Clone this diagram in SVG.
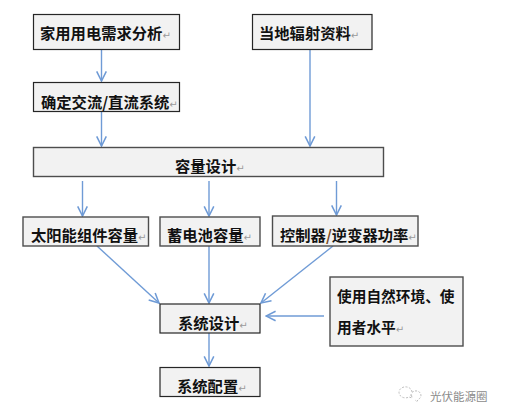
<svg xmlns="http://www.w3.org/2000/svg" width="505" height="418" viewBox="0 0 505 418">
<style>
.b{fill:#f2f2f2;stroke:#262626;stroke-width:1.2}
.g{fill:#f2f2f2;stroke:#4d4d4d;stroke-width:1.4}
text{font-family:"Noto Sans CJK SC","Noto Sans",sans-serif;font-weight:700;font-size:15.300px;fill:#111}
.r{font-family:"DejaVu Sans",sans-serif;font-weight:400;font-size:10px;fill:#9a9a9a}
.e{font-size:14.700px}
.w{font-weight:400;font-size:11.500px;fill:#8c8c8c}
#connectors line{stroke:#6f9bd6;stroke-width:1.4;fill:none;marker-end:url(#a)}
</style>
<defs><marker id="a" markerUnits="userSpaceOnUse" markerWidth="12" markerHeight="12" refX="9" refY="5" orient="auto" viewBox="0 0 10 10"><path d="M1 1L9 5L1 9" fill="none" stroke="#6f9bd6" stroke-width="1.3"/></marker></defs>
<rect width="505" height="418" fill="#fff"/>
<g id="connectors">
<line x1="101.500" y1="49" x2="101.500" y2="81"/>
<line x1="101.500" y1="111" x2="101.500" y2="146"/>
<line x1="310" y1="49" x2="310" y2="146"/>
<line x1="82.500" y1="181" x2="82.500" y2="216"/>
<line x1="209" y1="181" x2="209" y2="216"/>
<line x1="336.500" y1="181" x2="336.500" y2="215"/>
<line x1="97" y1="246" x2="159" y2="303"/>
<line x1="209" y1="246" x2="209" y2="303"/>
<line x1="333" y1="246" x2="261" y2="303"/>
<line x1="209" y1="333" x2="209" y2="366"/>
<line x1="324" y1="316" x2="266" y2="316"/>
</g>
<g id="n1"><rect class="b" x="33.500" y="14.500" width="146" height="35"/><text x="40" y="39">家用用电需求分析<tspan class="r">↵</tspan></text></g>
<g id="n2"><rect class="b" x="33.500" y="82.500" width="146" height="29"/><text x="41" y="108">确定交流/直流系统<tspan class="r">↵</tspan></text></g>
<g id="n3"><rect class="b" x="252.500" y="14.500" width="119.500" height="35"/><text x="259" y="39">当地辐射资料<tspan class="r">↵</tspan></text></g>
<g id="n4"><rect class="g" x="33.500" y="147.500" width="350" height="29"/><text x="175" y="172">容量设计<tspan class="r">↵</tspan></text></g>
<g id="n5"><rect class="g" x="23" y="217" width="125.500" height="29"/><text x="31" y="241">太阳能组件容量<tspan class="r">↵</tspan></text></g>
<g id="n6"><rect class="g" x="160" y="217" width="100" height="29"/><text x="167" y="241">蓄电池容量<tspan class="r">↵</tspan></text></g>
<g id="n7"><rect class="g" x="272.500" y="216" width="145.500" height="30"/><text x="280" y="241">控制器<tspan fill="#7a4a1e">/</tspan>逆变器功率<tspan class="r">↵</tspan></text></g>
<g id="n8"><rect class="b" x="160" y="304" width="100" height="29"/><text x="178" y="329">系统设计<tspan class="r">↵</tspan></text></g>
<g id="n9"><rect class="b" x="160" y="367.500" width="100" height="29"/><text x="177" y="392">系统配置<tspan class="r">↵</tspan></text></g>
<g id="n10"><rect class="g" x="330" y="277" width="133" height="69"/><text class="e" x="337" y="302">使用自然环境、使</text><text class="e" x="337" y="333">用者水平<tspan class="r">↵</tspan></text></g>
<g id="watermark"><path d="M412 392a6.500 5.500 0 1 0-3 5l3 1-.5-3" fill="none" stroke="#bdbdbd" stroke-dasharray="2 1.500"/><path d="M411 396a5 4.500 0 1 1 7 3.500l-1 2-2-1.500" fill="none" stroke="#bdbdbd" stroke-dasharray="2 1.500"/><text class="w" x="430" y="401">光伏能源圈</text></g>
</svg>
